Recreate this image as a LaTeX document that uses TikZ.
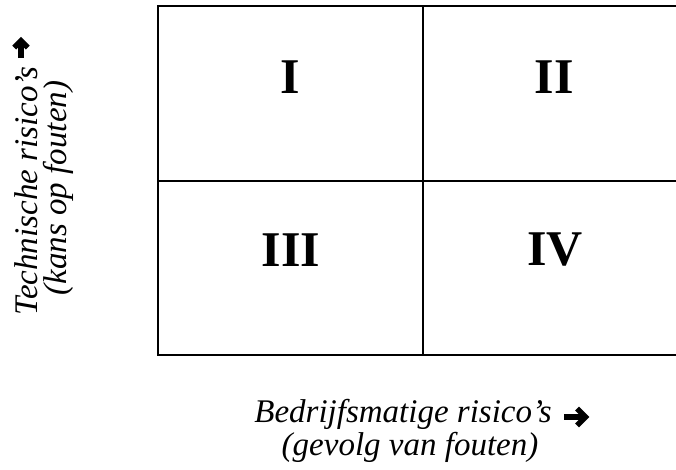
\documentclass[tikz,border=0pt]{standalone}
\usepackage{fontspec}
\setmainfont{Liberation Serif}
\begin{document}
\begin{tikzpicture}[x=1pt,y=-1pt,
  grid/.style={line width=2pt},
  roman/.style={font=\fontsize{50}{60}\selectfont\bfseries, inner sep=0pt},
  axislabel/.style={font=\fontsize{33}{38}\selectfont\itshape, inner sep=0pt, anchor=base},
  arrowstroke/.style={line width=5.5pt, line join=miter, line cap=butt},
  heavyarrow/.pic={
    \draw[arrowstroke] (0,0) -- (21,0);
    \draw[arrowstroke] (13,-8.5) -- (21.5,0) -- (13,8.5);
  }]
\useasboundingbox (0,0) rectangle (676,469);
\coordinate (tl) at (158,6);
\coordinate (tr) at (677,6);
\coordinate (bl) at (158,355);
\coordinate (br) at (677,355);
\coordinate (mt) at (423,6);
\coordinate (mb) at (423,355);
\coordinate (ml) at (158,181);
\coordinate (mr) at (677,181);
\draw[grid] (tr) -- (tl) -- (bl) -- (br);
\draw[grid] (mt) -- (mb);
\draw[grid] (ml) -- (mr);
\node[roman] (q1) at (290,77) {I};
\node[roman] (q2) at (554,77) {II};
\node[roman] (q3) at (291,250) {III};
\node[roman] (q4) at (555,250) {IV};
\node[axislabel] (x1) at (403,422) {Bedrijfsmatige risico’s};
\node[axislabel] (x2) at (410,455) {(gevolg van fouten)};
\node[axislabel, rotate=90] (y1) at (37,191) {Technische risico’s};
\node[axislabel, rotate=90] (y2) at (66,188) {(kans op fouten)};
\pic at (564,417) {heavyarrow};
\pic[rotate=90, scale=0.8] at (21,58) {heavyarrow};
\end{tikzpicture}
\end{document}
